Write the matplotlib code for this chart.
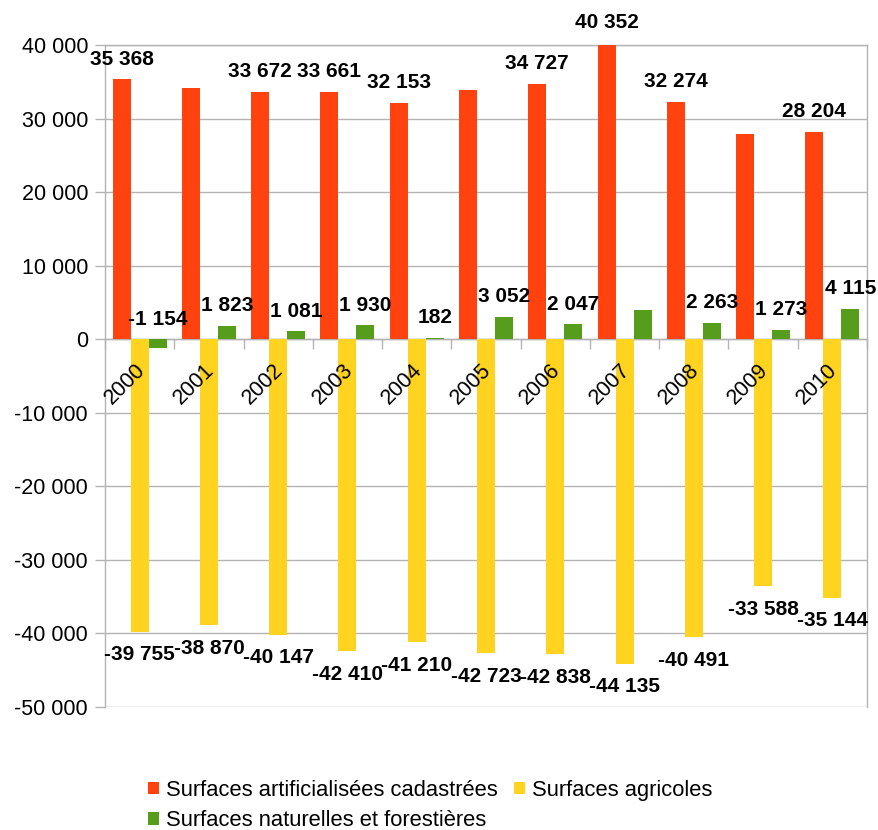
import matplotlib
matplotlib.use("Agg")
import matplotlib.pyplot as plt
import numpy as np
from matplotlib.ticker import FuncFormatter, FixedLocator

plt.rcParams['font.family'] = ['Liberation Sans', 'DejaVu Sans']

years = ["2000", "2001", "2002", "2003", "2004", "2005", "2006", "2007", "2008", "2009", "2010"]
artificial = [35368, 34120, 33672, 33661, 32153, 33850, 34727, 40352, 32274, 27870, 28204]
agricultural = [-39755, -38870, -40147, -42410, -41210, -42723, -42838, -44135, -40491, -33588, -35144]
natural = [-1154, 1823, 1081, 1930, 182, 3052, 2047, 3940, 2263, 1273, 4115]
series_names = ["Surfaces artificialisées cadastrées", "Surfaces agricoles",
                "Surfaces naturelles et forestières"]
# labels hidden in the reference (overlap suppression)
hidden_art = {1, 5, 9}
hidden_nat = {7}

colors = ["#ff420e", "#ffd320", "#579d1c"]
grid_c = "#b3b3b3"

fig = plt.figure(figsize=(8.79, 8.30), dpi=100)
ax = fig.add_axes([105/879, 1-707/830, (867-105)/879, (707-45)/830])

x = np.arange(len(years))
w = 0.26
b1 = ax.bar(x - w, artificial, w, color=colors[0], zorder=3, label=series_names[0])
b2 = ax.bar(x, agricultural, w, color=colors[1], zorder=3, label=series_names[1])
b3 = ax.bar(x + w, natural, w, color=colors[2], zorder=3, label=series_names[2])

ax.set_xlim(-0.5, len(years) - 0.5)
ax.set_ylim(-50000, 40000)

fmt = lambda v: f"{v:,.0f}".replace(",", " ")
ax.yaxis.set_major_locator(FixedLocator(np.arange(-50000, 40001, 10000)))
ax.yaxis.set_major_formatter(FuncFormatter(lambda v, p: fmt(v)))
ax.tick_params(axis='y', length=10*0.72, width=1, color=grid_c, labelsize=15.5, pad=5)
ax.grid(axis='y', color=grid_c, lw=1, zorder=0)

ax.set_xticks(x)
ax.set_xticklabels([])
ax.set_xticks(np.arange(-0.5, len(years)), minor=True)
ax.tick_params(axis='x', which='major', length=0)
ax.tick_params(axis='x', which='minor', length=10*0.72, width=1, color=grid_c)

for i, yr in enumerate(years):
    ax.annotate(yr, (x[i], 0), xytext=(1.5, -28*0.72), textcoords='offset points',
                rotation=45, ha='right', va='center', rotation_mode='anchor',
                fontsize=15.5, zorder=6)

for s in ['left', 'right', 'top']:
    ax.spines[s].set_color(grid_c)
    ax.spines[s].set_linewidth(1)
ax.spines['bottom'].set_position(('data', 0))
ax.spines['bottom'].set_color(grid_c)
ax.spines['bottom'].set_linewidth(1)
ax.spines['bottom'].set_zorder(2)

lab_kw = dict(ha='center', va='center', fontsize=15, fontweight='bold', textcoords='offset points')
off = 20 * 0.72
for i in range(len(years)):
    if i not in hidden_art:
        ax.annotate(fmt(artificial[i]), (x[i] - w, artificial[i]), xytext=(0, off), zorder=5, **lab_kw,
                    annotation_clip=False)
    ax.annotate(fmt(agricultural[i]), (x[i], agricultural[i]), xytext=(0, -23*0.72), zorder=5, **lab_kw)
    if i not in hidden_nat:
        ax.annotate(fmt(natural[i]), (x[i] + w, max(natural[i], 0)), xytext=(0, off), zorder=5, **lab_kw)

handles = [b1, b3, b2]
labels = [series_names[0], series_names[2], series_names[1]]
fig.legend(handles, labels, ncol=2, loc='upper left', bbox_to_anchor=(148/879, 1-780/830),
           frameon=False, fontsize=15.8, handlelength=0.5, handleheight=0.5, handletextpad=0.32,
           columnspacing=0.75, labelspacing=0.42, borderpad=0, borderaxespad=0)

fig.savefig("out.png", dpi=100)
